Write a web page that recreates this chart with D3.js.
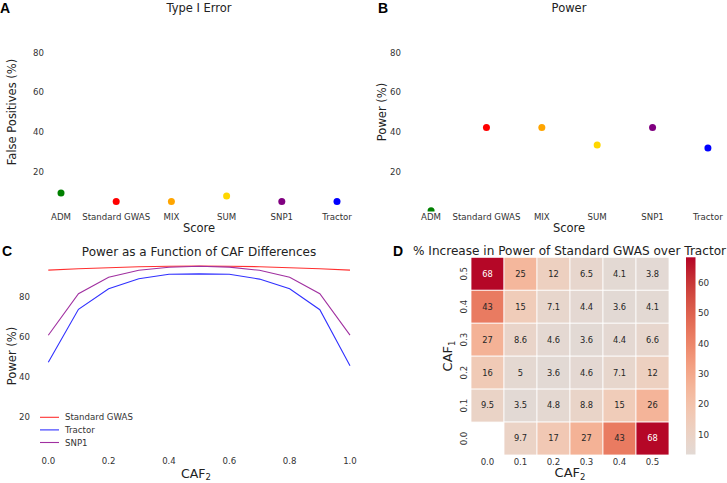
<!DOCTYPE html>
<html>
<head>
<meta charset="utf-8">
<script src="https://cdn.jsdelivr.net/npm/d3@7"></script>
<style>
  body { margin: 0; background: #fff; }
  svg { display: block; font-family: "DejaVu Sans", sans-serif; }
  .tick-label { font-size: 8.6px; fill: #333; }
  .axis-label { font-size: 11.5px; fill: #222; }
  .title { font-size: 11.5px; fill: #222; }
  .letter { font-family: "Liberation Sans", Arial, sans-serif; font-weight: bold; font-size: 14px; fill: #000; }
</style>
</head>
<body>
<svg id="chart" width="727" height="483"></svg>
<script>
//============================================================
// Data
//------------------------------------------------------------

var scores = ["ADM", "Standard GWAS", "MIX", "SUM", "SNP1", "Tractor"];
var scoreColors = ["#008000", "#ff0000", "#ffa500", "#ffd700", "#800080", "#0000ff"];
var typeIError = [9.3, 5.0, 5.0, 7.8, 5.0, 5.0];
var scorePower = [0.4, 42.3, 42.3, 33.5, 42.3, 32.0];
var yTicks = [20, 40, 60, 80];

var caf2Values = [0.0, 0.1, 0.2, 0.3, 0.4, 0.5, 0.6, 0.7, 0.8, 0.9, 1.0];
var gwasPower = [93.3, 94.0, 94.5, 95.0, 95.2, 95.3, 95.2, 95.0, 94.5, 94.0, 93.3];
var tractorPower = [47.2, 73.7, 84.0, 89.0, 91.2, 91.4, 91.2, 88.8, 84.0, 73.5, 45.5];
var snp1Power = [60.7, 81.5, 89.7, 93.2, 94.7, 95.2, 94.8, 93.2, 89.7, 81.5, 60.8];
var caf2Ticks = [0.0, 0.2, 0.4, 0.6, 0.8, 1.0];

var heatRows = ["0.5", "0.4", "0.3", "0.2", "0.1", "0.0"];
var heatCols = ["0.0", "0.1", "0.2", "0.3", "0.4", "0.5"];
var heatValues = [
    [68, 25, 12, 6.5, 4.1, 3.8],
    [43, 15, 7.1, 4.4, 3.6, 4.1],
    [27, 8.6, 4.6, 3.6, 4.4, 6.6],
    [16, 5, 3.6, 4.6, 7.1, 12],
    [9.5, 3.5, 4.8, 8.8, 15, 26],
    [null, 9.7, 17, 27, 43, 68]
];
var colorbarTicks = [10, 20, 30, 40, 50, 60];

//============================================================
// Setup
//------------------------------------------------------------

var svg = d3.select("#chart");

// upper half of matplotlib coolwarm, seaborn-style centred at 0
var coolwarmTop = d3.interpolateRgbBasis([
    "#dddcdc", "#ead5c9", "#f2c9b4", "#f5b79b", "#f39b7c",
    "#ea7c61", "#dc5d4a", "#c93a37", "#b40426"
]);

function letter(x, y, t) {
    svg.append("text").attr("class", "letter").attr("x", x).attr("y", y).text(t);
}

function cafLabel(g, sub) {
    g.append("tspan").text("CAF");
    g.append("tspan").style("font-size", "8.5px").attr("dy", "2.5").text(sub);
}

//============================================================
// Panels A / B: point plots
//------------------------------------------------------------

function scorePanel(opts) {
    var x = d3.scalePoint().domain(scores).range([opts.x0, opts.x1]).padding(0.5),
        y = d3.scaleLinear().domain([0, 100]).range([211.5, 13]);

    var g = svg.append("g");
    var clipId = "clip-" + opts.id;
    g.append("clipPath").attr("id", clipId)
        .append("rect")
        .attr("x", opts.x0).attr("y", y(100))
        .attr("width", opts.x1 - opts.x0).attr("height", y(0) - y(100));

    g.append("text").attr("class", "title")
        .attr("x", opts.titleX).attr("y", 11.5)
        .attr("text-anchor", "middle").text(opts.title);

    g.selectAll(".ytick").data(yTicks).enter().append("text")
        .attr("class", "tick-label")
        .attr("x", opts.tickX).attr("y", function(d) { return y(d); })
        .attr("dy", "0.35em").attr("text-anchor", "end")
        .text(function(d) { return d; });

    g.selectAll(".xtick").data(scores).enter().append("text")
        .attr("class", "tick-label")
        .attr("x", function(d) { return x(d); }).attr("y", 220)
        .attr("text-anchor", "middle")
        .text(function(d) { return d; });

    g.append("g").attr("clip-path", "url(#" + clipId + ")")
        .selectAll("circle").data(opts.values).enter().append("circle")
        .attr("cx", function(d, i) { return x(scores[i]); })
        .attr("cy", function(d) { return y(d); })
        .attr("r", 3.5)
        .attr("fill", function(d, i) { return scoreColors[i]; });

    g.append("text").attr("class", "axis-label")
        .attr("x", opts.titleX).attr("y", 232)
        .attr("text-anchor", "middle").text("Score");

    g.append("text").attr("class", "axis-label")
        .attr("transform", "translate(" + opts.yLabelX + "," + opts.yLabelY + ") rotate(-90)")
        .attr("text-anchor", "middle").text(opts.yLabel);
}

scorePanel({id: "a", x0: 33.4, x1: 364.6, title: "Type I Error", titleX: 199,
    tickX: 44, values: typeIError, yLabel: "False Positives (%)", yLabelX: 16, yLabelY: 112});
scorePanel({id: "b", x0: 403.4, x1: 735.6, title: "Power", titleX: 569,
    tickX: 401, values: scorePower, yLabel: "Power (%)", yLabelX: 386, yLabelY: 112});

letter(0, 13, "A");
letter(378, 13, "B");

//============================================================
// Panel C: power vs CAF2
//------------------------------------------------------------

(function() {
    var x = d3.scaleLinear().domain([0, 1]).range([48.3, 350]),
        y = d3.scaleLinear().domain([0, 100]).range([456.7, 256.7]);

    var series = [
        {name: "Standard GWAS", values: gwasPower, color: "#ff3030"},
        {name: "Tractor", values: tractorPower, color: "#3030ff"},
        {name: "SNP1", values: snp1Power, color: "#a030a0"}
    ];

    var g = svg.append("g");

    g.append("text").attr("class", "title")
        .attr("x", 199).attr("y", 256).style("font-size", "12px")
        .attr("text-anchor", "middle").text("Power as a Function of CAF Differences");

    g.selectAll(".ytick").data(yTicks).enter().append("text")
        .attr("class", "tick-label")
        .attr("x", 30).attr("y", function(d) { return y(d); })
        .attr("dy", "0.35em").attr("text-anchor", "end")
        .text(function(d) { return d; });

    g.selectAll(".xtick").data(caf2Ticks).enter().append("text")
        .attr("class", "tick-label")
        .attr("x", function(d) { return x(d); }).attr("y", 464)
        .attr("text-anchor", "middle")
        .text(function(d) { return d.toFixed(1); });

    var line = d3.line()
        .x(function(d, i) { return x(caf2Values[i]); })
        .y(function(d) { return y(d); });

    g.selectAll(".series").data(series).enter().append("path")
        .attr("d", function(d) { return line(d.values); })
        .attr("fill", "none")
        .attr("stroke", function(d) { return d.color; })
        .attr("stroke-width", 1.1);

    // legend, lower left, no frame
    var leg = g.selectAll(".legend").data(series).enter().append("g")
        .attr("transform", function(d, i) { return "translate(40," + (417.3 + i * 12.6) + ")"; });
    leg.append("line").attr("x1", 0).attr("x2", 19)
        .attr("stroke", function(d) { return d.color; }).attr("stroke-width", 1.1);
    leg.append("text").attr("class", "tick-label")
        .attr("x", 25).attr("dy", "0.35em")
        .text(function(d) { return d.name; });

    var xl = g.append("text").attr("class", "axis-label")
        .attr("x", 196).attr("y", 477.5).style("font-size", "12.5px").attr("text-anchor", "middle");
    cafLabel(xl, "2");

    g.append("text").attr("class", "axis-label")
        .attr("transform", "translate(16,356) rotate(-90)")
        .attr("text-anchor", "middle").text("Power (%)");
})();

letter(2, 256, "C");

//============================================================
// Panel D: heatmap
//------------------------------------------------------------

(function() {
    var x = d3.scaleBand().domain(heatCols).range([471, 669]),
        y = d3.scaleBand().domain(heatRows).range([257.3, 455]);

    var flat = [];
    heatValues.forEach(function(row, i) {
        row.forEach(function(v, j) {
            if (v !== null) flat.push({row: heatRows[i], col: heatCols[j], value: v});
        });
    });

    var ext = d3.extent(flat, function(d) { return d.value; }),
        vmin = ext[0],
        vmax = ext[1] + 0.4,
        vrange = Math.max(Math.abs(vmax), Math.abs(vmin));
    function color(v) {
        var t = (v + vrange) / (2 * vrange);
        return coolwarmTop((t - 0.5) / 0.5);
    }
    function textColor(v) {
        var c = d3.rgb(color(v));
        var lum = 0.2126 * c.r + 0.7152 * c.g + 0.0722 * c.b;
        return lum > 104 ? "#262626" : "#fff";
    }

    var g = svg.append("g");

    g.append("text").attr("class", "title")
        .attr("x", 413).attr("y", 255).style("font-size", "12.1px")
        .text("% Increase in Power of Standard GWAS over Tractor");

    var cell = g.selectAll(".cell").data(flat).enter().append("g");
    cell.append("rect")
        .attr("x", function(d) { return x(d.col); })
        .attr("y", function(d) { return y(d.row); })
        .attr("width", x.bandwidth())
        .attr("height", y.bandwidth())
        .attr("fill", function(d) { return color(d.value); })
        .attr("stroke", "#fff")
        .attr("stroke-width", 0.8);
    cell.append("text")
        .attr("x", function(d) { return x(d.col) + x.bandwidth() / 2; })
        .attr("y", function(d) { return y(d.row) + y.bandwidth() / 2; })
        .attr("dy", "0.35em").attr("text-anchor", "middle")
        .style("font-size", "8.3px")
        .attr("fill", function(d) { return textColor(d.value); })
        .text(function(d) { return d.value; });

    g.selectAll(".xtick").data(heatCols).enter().append("text")
        .attr("class", "tick-label")
        .attr("x", function(d) { return x(d) + x.bandwidth() / 2; }).attr("y", 465)
        .attr("text-anchor", "middle").text(function(d) { return d; });

    g.selectAll(".ytick").data(heatRows).enter().append("text")
        .attr("class", "tick-label")
        .attr("transform", function(d) {
            return "translate(464," + (y(d) + y.bandwidth() / 2) + ") rotate(-90)";
        })
        .attr("dy", "0.35em").attr("text-anchor", "middle")
        .text(function(d) { return d; });

    var xl = g.append("text").attr("class", "axis-label")
        .attr("x", 570).attr("y", 477).style("font-size", "13px").attr("text-anchor", "middle");
    cafLabel(xl, "2");

    var yl = g.append("text").attr("class", "axis-label")
        .attr("transform", "translate(452,356) rotate(-90)")
        .style("font-size", "13px").attr("text-anchor", "middle");
    cafLabel(yl, "1");

    // colorbar
    var cb = d3.scaleLinear().domain([vmin, vmax]).range([454.5, 257.3]);
    var grad = svg.append("defs").append("linearGradient")
        .attr("id", "cbar").attr("x1", 0).attr("y1", 1).attr("x2", 0).attr("y2", 0);
    d3.range(0, 1.0001, 0.05).forEach(function(t) {
        grad.append("stop").attr("offset", t)
            .attr("stop-color", color(vmin + t * (vmax - vmin)));
    });
    g.append("rect")
        .attr("x", 686).attr("y", cb(vmax))
        .attr("width", 9.5).attr("height", cb(vmin) - cb(vmax))
        .attr("fill", "url(#cbar)");
    g.selectAll(".cbtick").data(colorbarTicks).enter().append("text")
        .attr("class", "tick-label")
        .style("font-size", "8.8px")
        .attr("x", 698).attr("y", function(d) { return cb(d); })
        .attr("dy", "0.35em").text(function(d) { return d; });
})();

letter(393, 256, "D");
</script>
</body>
</html>
